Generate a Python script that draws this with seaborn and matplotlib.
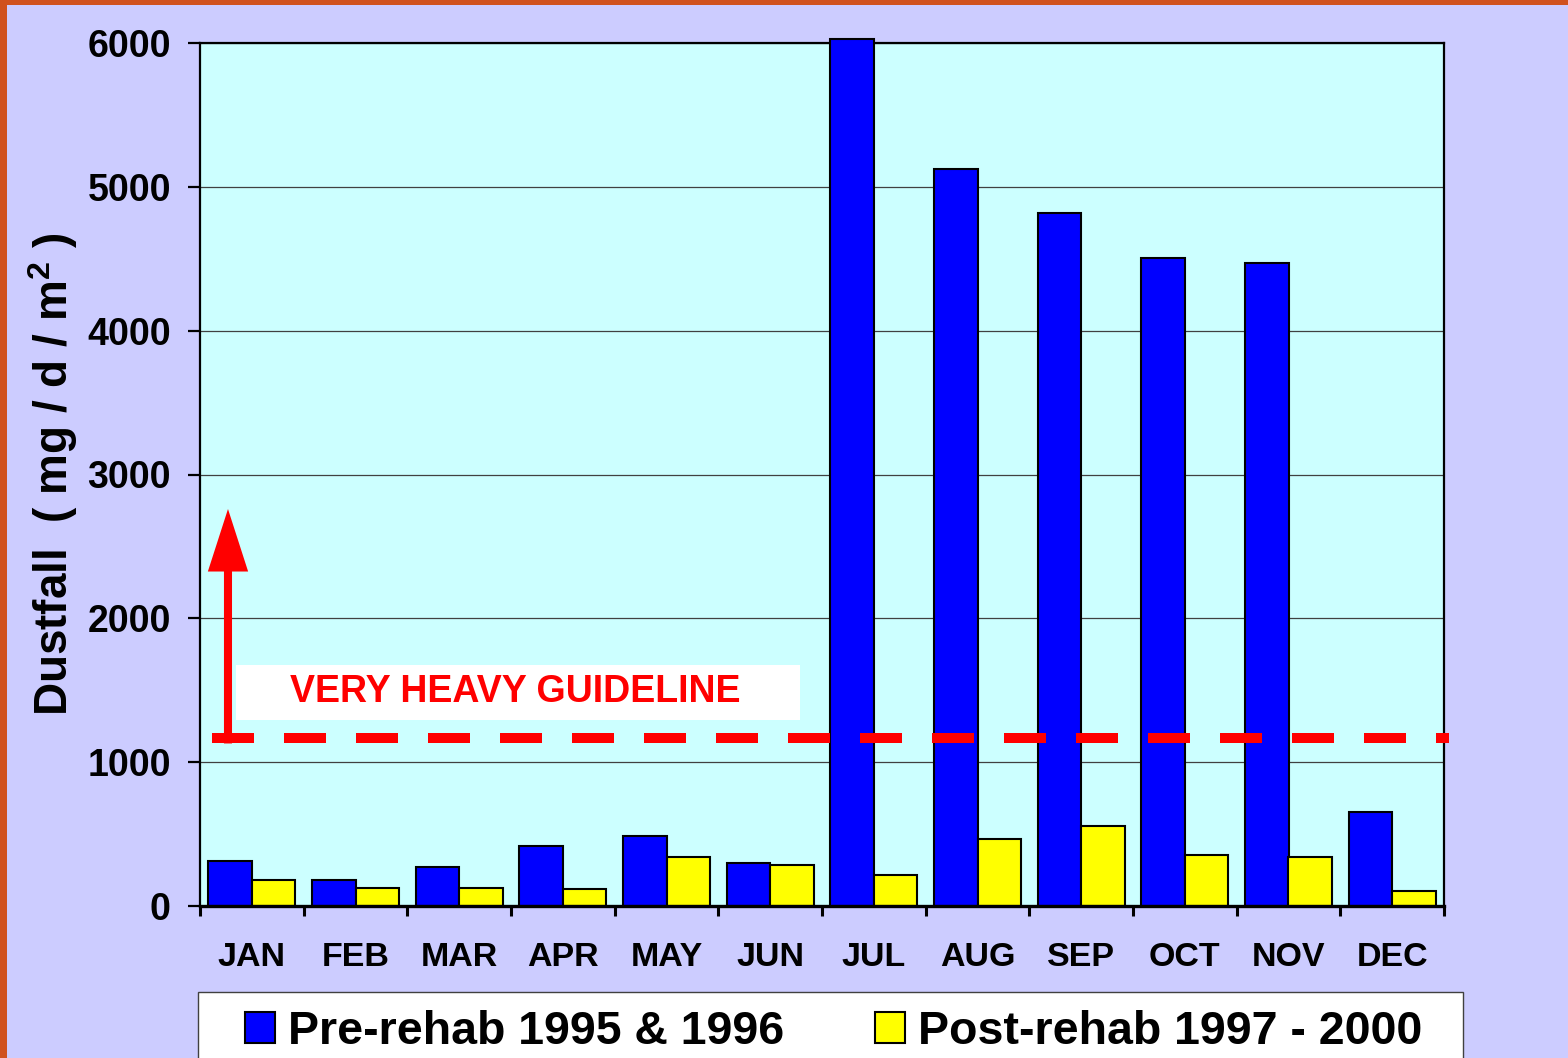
import numpy as np
import pandas as pd
import seaborn as sns
import matplotlib.pyplot as plt
from matplotlib.patches import Rectangle, Patch

# %% Data

months = ["JAN", "FEB", "MAR", "APR", "MAY", "JUN",
          "JUL", "AUG", "SEP", "OCT", "NOV", "DEC"]
pre_rehab = [315, 182, 272, 417, 489, 299, 6030, 5122, 4816, 4504, 4469, 653]
post_rehab = [181, 123, 123, 116, 338, 285, 215, 466, 556, 354, 341, 104]
series_names = ["Pre-rehab 1995 & 1996", "Post-rehab 1997 - 2000"]
y_ticks = [0, 1000, 2000, 3000, 4000, 5000, 6000]
guideline = 1170
guideline_label = "VERY HEAVY GUIDELINE"
y_label = r"Dustfall  ( mg / d / m$^{\mathbf{2}}$ )"

df = pd.DataFrame({
    "month": months * 2,
    "value": pre_rehab + post_rehab,
    "period": [series_names[0]] * len(months) + [series_names[1]] * len(months),
})

# %% Style

sns.set_theme(style="white")
plt.rcParams["font.family"] = ["Liberation Sans", "DejaVu Sans"]
plt.rcParams["font.weight"] = "bold"
plt.rcParams["mathtext.fontset"] = "custom"
plt.rcParams["mathtext.rm"] = "Liberation Sans:bold"
plt.rcParams["mathtext.bf"] = "Liberation Sans:bold"
for key in ["text.color", "axes.labelcolor", "xtick.color", "ytick.color"]:
    plt.rcParams[key] = "black"

c_blue = "#0000FF"
c_yellow = "#FFFF00"
c_bg = "#CCCCFF"
c_plot = "#CCFFFF"
c_border = "#D0521E"

W, H = 1568, 1058
fig = plt.figure(figsize=(W / 100, H / 100), dpi=100, facecolor=c_bg)
ax = fig.add_axes([200 / W, 1 - 906 / H, (1444 - 200) / W, (906 - 43) / H])
ax.set_facecolor(c_plot)

# %% Bars

sns.barplot(data=df, x="month", y="value", hue="period",
            palette=[c_blue, c_yellow], width=0.84, gap=0,
            edgecolor="black", linewidth=1.5, saturation=1,
            ax=ax, zorder=3)
for p in ax.patches:
    p.set_clip_on(False)
ax.legend_.remove()

ax.set_xlim(-0.5, len(months) - 0.5)
ax.set_ylim(0, 6000)
ax.set_yticks(y_ticks)
ax.set_yticklabels([str(t) for t in y_ticks], fontsize=27, fontweight="bold")
ax.set_xticks(range(len(months)))
ax.set_xticklabels(months, fontsize=24.5, fontweight="bold")
ax.set_xticks(np.arange(-0.5, len(months)), minor=True)
ax.tick_params(axis="x", which="major", length=0, pad=26)
ax.tick_params(axis="x", which="minor", length=7, width=2.2, direction="out",
               color="black", bottom=True)
ax.tick_params(axis="y", which="major", length=9, width=1.6, direction="out",
               color="black", pad=12, left=True)
ax.set_xlabel("")
ax.set_ylabel(y_label, fontsize=33, fontweight="bold", labelpad=5)

ax.yaxis.grid(True, color="#404040", linewidth=0.9, zorder=0)
ax.set_axisbelow(True)
for side, sp in ax.spines.items():
    sp.set_visible(True)
    sp.set_color("black")
    sp.set_linewidth(1.6)
ax.spines["bottom"].set_linewidth(2.4)
ax.spines["bottom"].set_zorder(4)

# %% Guideline, label box and arrow

ax.axhline(guideline, xmin=0.01, xmax=1.004, color="red", linewidth=7.2,
           dashes=(4.2, 3.0), dash_capstyle="butt", clip_on=False, zorder=5)
ax.add_patch(Rectangle((-0.153, 1293), 5.44, 382, facecolor="white",
                       edgecolor="none", zorder=5))
ax.text(2.54, 1490, guideline_label, color="red", fontsize=27,
        fontweight="bold", ha="center", va="center", zorder=6)
ax.annotate("", xy=(-0.23, 2760), xytext=(-0.23, guideline - 40),
            arrowprops=dict(facecolor="red", edgecolor="none", width=5.8,
                            headwidth=29, headlength=45, shrink=0),
            zorder=6)

# %% Legend with white box at the bottom

fig.patches.append(Rectangle((198 / W, -0.01), (1463 - 198) / W, (1058 - 992) / H + 0.01,
                             transform=fig.transFigure, facecolor="white",
                             edgecolor="#404040", linewidth=1))
handles = [Patch(facecolor=c_blue, edgecolor="black", linewidth=1.5),
           Patch(facecolor=c_yellow, edgecolor="black", linewidth=1.5)]
fig.legend(handles, series_names, loc="upper left",
           bbox_to_anchor=(245 / W, 1 - 1010 / H), ncol=2, frameon=False,
           prop=dict(size=33.5, weight="bold"), handlelength=0.65,
           handleheight=0.65, handletextpad=0.28, columnspacing=1.95,
           borderpad=0, borderaxespad=0)

# %% Orange frame on the left and top edges

fig.patches.append(Rectangle((0, 0), 7 / W, 1, transform=fig.transFigure,
                             facecolor=c_border, edgecolor="none"))
fig.patches.append(Rectangle((0, 1 - 5 / H), 1, 5 / H, transform=fig.transFigure,
                             facecolor=c_border, edgecolor="none"))

fig.savefig("out.png", dpi=100, facecolor=c_bg)
